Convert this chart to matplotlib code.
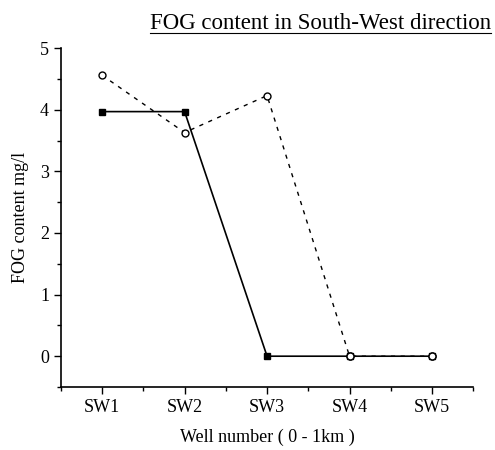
import numpy as np
import matplotlib.pyplot as plt
from matplotlib.lines import Line2D
from matplotlib.ticker import MultipleLocator

wells = ['SW1', 'SW2', 'SW3', 'SW4', 'SW5']
solid_vals = [3.97, 3.97, 0.0, 0.0, 0.0]
dashed_vals = [4.56, 3.63, 4.23, 0.0, 0.0]

plt.rcParams['font.family'] = ['Liberation Serif', 'DejaVu Serif']

fig = plt.figure(figsize=(4.95, 4.5), dpi=100)
ax = fig.add_axes([0.123, 0.14, 0.833, 0.753])

x = np.arange(1, len(wells) + 1)
ax.plot(x, dashed_vals, color='black', lw=1, ls=(0, (3, 4)), marker='o',
        ms=5, mfc='white', mec='black', mew=1, zorder=2)
ax.plot(x, solid_vals, color='black', lw=1.2, marker='s', ms=5,
        mfc='black', mec='black', zorder=3)
# open circles sit over the solid line at SW4, SW5
ax.plot(x[3:], dashed_vals[3:], ls='none', marker='o', ms=5, mfc='white',
        mec='black', mew=1, zorder=4)

ax.set_xlim(0.5, 5.5)
ax.set_ylim(-0.5, 5)
ax.set_xticks(x)
ax.set_xticklabels(wells)
ax.set_xticks(np.arange(0.5, 6, 1), minor=True)
ax.set_yticks(range(0, 6))
ax.yaxis.set_minor_locator(MultipleLocator(0.5))

for s in ['top', 'right']:
    ax.spines[s].set_visible(False)
ax.spines['left'].set_linewidth(1.2)
ax.spines['bottom'].set_linewidth(1.2)
ax.tick_params(which='major', direction='out', length=5, width=1, labelsize=13)
ax.tick_params(which='minor', direction='out', length=3, width=1)

ax.set_xlabel('Well number ( 0 - 1km )', fontsize=13, labelpad=9)
ax.set_ylabel('FOG content mg/l', fontsize=13, labelpad=8)

title = fig.text(0.992, 0.935, 'FOG content in South-West direction',
                 ha='right', va='baseline', fontsize=16.5)
fig.canvas.draw()
bb = title.get_window_extent().transformed(fig.transFigure.inverted())
uy = 0.935 - 0.009
fig.add_artist(Line2D([bb.x0, bb.x1], [uy, uy], color='black', lw=0.8))

fig.savefig('out.png', dpi=100)
